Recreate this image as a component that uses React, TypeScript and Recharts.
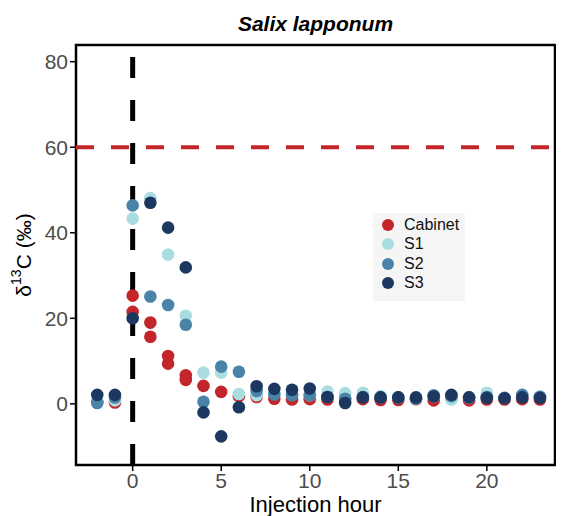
import React from 'react';
import { ScatterChart, Scatter, XAxis, YAxis, ReferenceLine, ReferenceArea } from 'recharts';

// hours relative to label injection
const hours = [-2, -1, 0, 1, 2, 3, 4, 5, 6, 7, 8, 9, 10, 11, 12, 13, 14, 15, 16, 17, 18, 19, 20, 21, 22, 23];

const cabinet = [0.5, 0.3, 25.3, 19.0, 11.2, 6.7, 4.2, 2.8, 1.8, 1.6, 1.2, 1.0, 1.1, 1.0, 1.2, 1.1, 0.9, 0.9, 1.1, 0.8, 1.3, 0.8, 1.0, 1.0, 1.1, 1.0];
// second cabinet sample taken during the first hours
const cabinetRepeatHours = [0, 1, 2, 3];
const cabinetRepeat = [21.5, 15.7, 9.4, 5.6];

const s1 = [0.8, 0.8, 43.3, 48.1, 34.9, 20.6, 7.3, 7.3, 2.3, 2.0, 2.4, 2.2, 2.0, 2.9, 2.5, 2.6, 1.8, 1.5, 1.4, 1.7, 1.0, 1.4, 2.6, 1.4, 1.8, 1.8];
const s2 = [0.2, 1.5, 46.4, 25.1, 23.1, 18.5, 0.5, 8.7, 7.5, 3.0, 2.2, 2.0, 2.0, 1.6, 1.2, 1.6, 1.5, 1.5, 1.2, 2.0, 1.8, 1.5, 1.6, 1.4, 2.1, 1.6];
const s3 = [2.1, 2.1, 20.0, 47.0, 41.2, 31.9, -2.0, -7.6, -0.8, 4.1, 3.5, 3.3, 3.6, 1.6, 0.2, 1.5, 1.5, 1.5, 1.5, 1.7, 2.1, 1.5, 1.4, 1.3, 1.5, 1.4];

const xTicks = [0, 5, 10, 15, 20];
const yTicks = [0, 20, 40, 60, 80];
const xDomain: [number, number] = [-3.2, 23.85];
const yDomain: [number, number] = [-14.3, 83.9];
const injectionHour = 0;
const enrichmentLimit = 60;

const toPoints = (hs: number[], vs: number[]) => hs.map((h, i) => ({ hour: h, d13c: vs[i] }));

const cabinetData = [...toPoints(hours, cabinet), ...toPoints(cabinetRepeatHours, cabinetRepeat)];

const seriesList = [
  { name: 'Cabinet', color: '#c3262a', data: cabinetData },
  { name: 'S1', color: '#a9dde0', data: toPoints(hours, s1) },
  { name: 'S2', color: '#4a83a8', data: toPoints(hours, s2) },
  { name: 'S3', color: '#1c3760', data: toPoints(hours, s3) },
];

const font = '"Liberation Sans", Arial, sans-serif';

const dot = (color: string) => (props: any) => <circle cx={props.cx} cy={props.cy} r={6.3} fill={color} />;

const LegendBox = () => (
  <div
    style={{
      position: 'absolute',
      left: 365,
      top: 205,
      background: '#f5f5f5',
      padding: '2px 6px 8px 8px',
      fontSize: 16,
      color: '#111',
    }}
  >
    {seriesList.map((s) => (
      <div key={s.name} style={{ display: 'flex', alignItems: 'center', height: 19.5 }}>
        <svg width={14} height={14} style={{ marginRight: 9 }}>
          <circle cx={7} cy={7} r={6} fill={s.color} />
        </svg>
        <span>{s.name}</span>
      </div>
    ))}
  </div>
);

const YTitle = () => (
  <text x={17} y={247} transform="rotate(-90 17 247)" textAnchor="middle" dominantBaseline="middle" fontSize={21} fill="#000">
    δ<tspan baselineShift="super" fontSize={14}>13</tspan>
    <tspan>C (‰)</tspan>
  </text>
);

const XTitle = () => (
  <text x={307.5} y={504} textAnchor="middle" fontSize={22} fill="#000">
    Injection hour
  </text>
);

export default function App() {
  return (
    <div style={{ position: 'relative', width: 556, height: 508, fontFamily: font }}>
      <div
        style={{
          position: 'absolute',
          left: 68,
          width: 479,
          top: 4,
          textAlign: 'center',
          fontSize: 21,
          fontWeight: 'bold',
          fontStyle: 'italic',
          lineHeight: '24px',
        }}
      >
        Salix lapponum
      </div>
      <ScatterChart width={556} height={508} margin={{ top: 37, right: 9, left: 20, bottom: 21 }}>
        <XAxis
          type="number"
          dataKey="hour"
          domain={xDomain}
          ticks={xTicks}
          allowDataOverflow
          axisLine={false}
          tickLine={{ stroke: '#000', strokeWidth: 1.5 }}
          tickSize={6}
          height={30}
          tick={{ fill: '#4d4d4d', fontSize: 21 }}
          label={<XTitle />}
        />
        <YAxis
          type="number"
          dataKey="d13c"
          domain={yDomain}
          ticks={yTicks}
          allowDataOverflow
          axisLine={false}
          tickLine={{ stroke: '#000', strokeWidth: 1.5 }}
          tickSize={6}
          width={48}
          tick={{ fill: '#4d4d4d', fontSize: 21 }}
          label={<YTitle />}
        />
        <ReferenceLine y={enrichmentLimit} stroke="#c3262a" strokeWidth={4} strokeDasharray="18 17" />
        {seriesList.map((s) => (
          <Scatter key={s.name} name={s.name} data={s.data} fill={s.color} shape={dot(s.color)} isAnimationActive={false} />
        ))}
        <ReferenceLine x={injectionHour} stroke="#000" strokeWidth={5} strokeDasharray="21 22" />
        <ReferenceArea x1={xDomain[0]} x2={xDomain[1]} y1={yDomain[0]} y2={yDomain[1]} fill="none" stroke="#000" strokeWidth={2.5} fillOpacity={0} />
      </ScatterChart>
      <LegendBox />
    </div>
  );
}
